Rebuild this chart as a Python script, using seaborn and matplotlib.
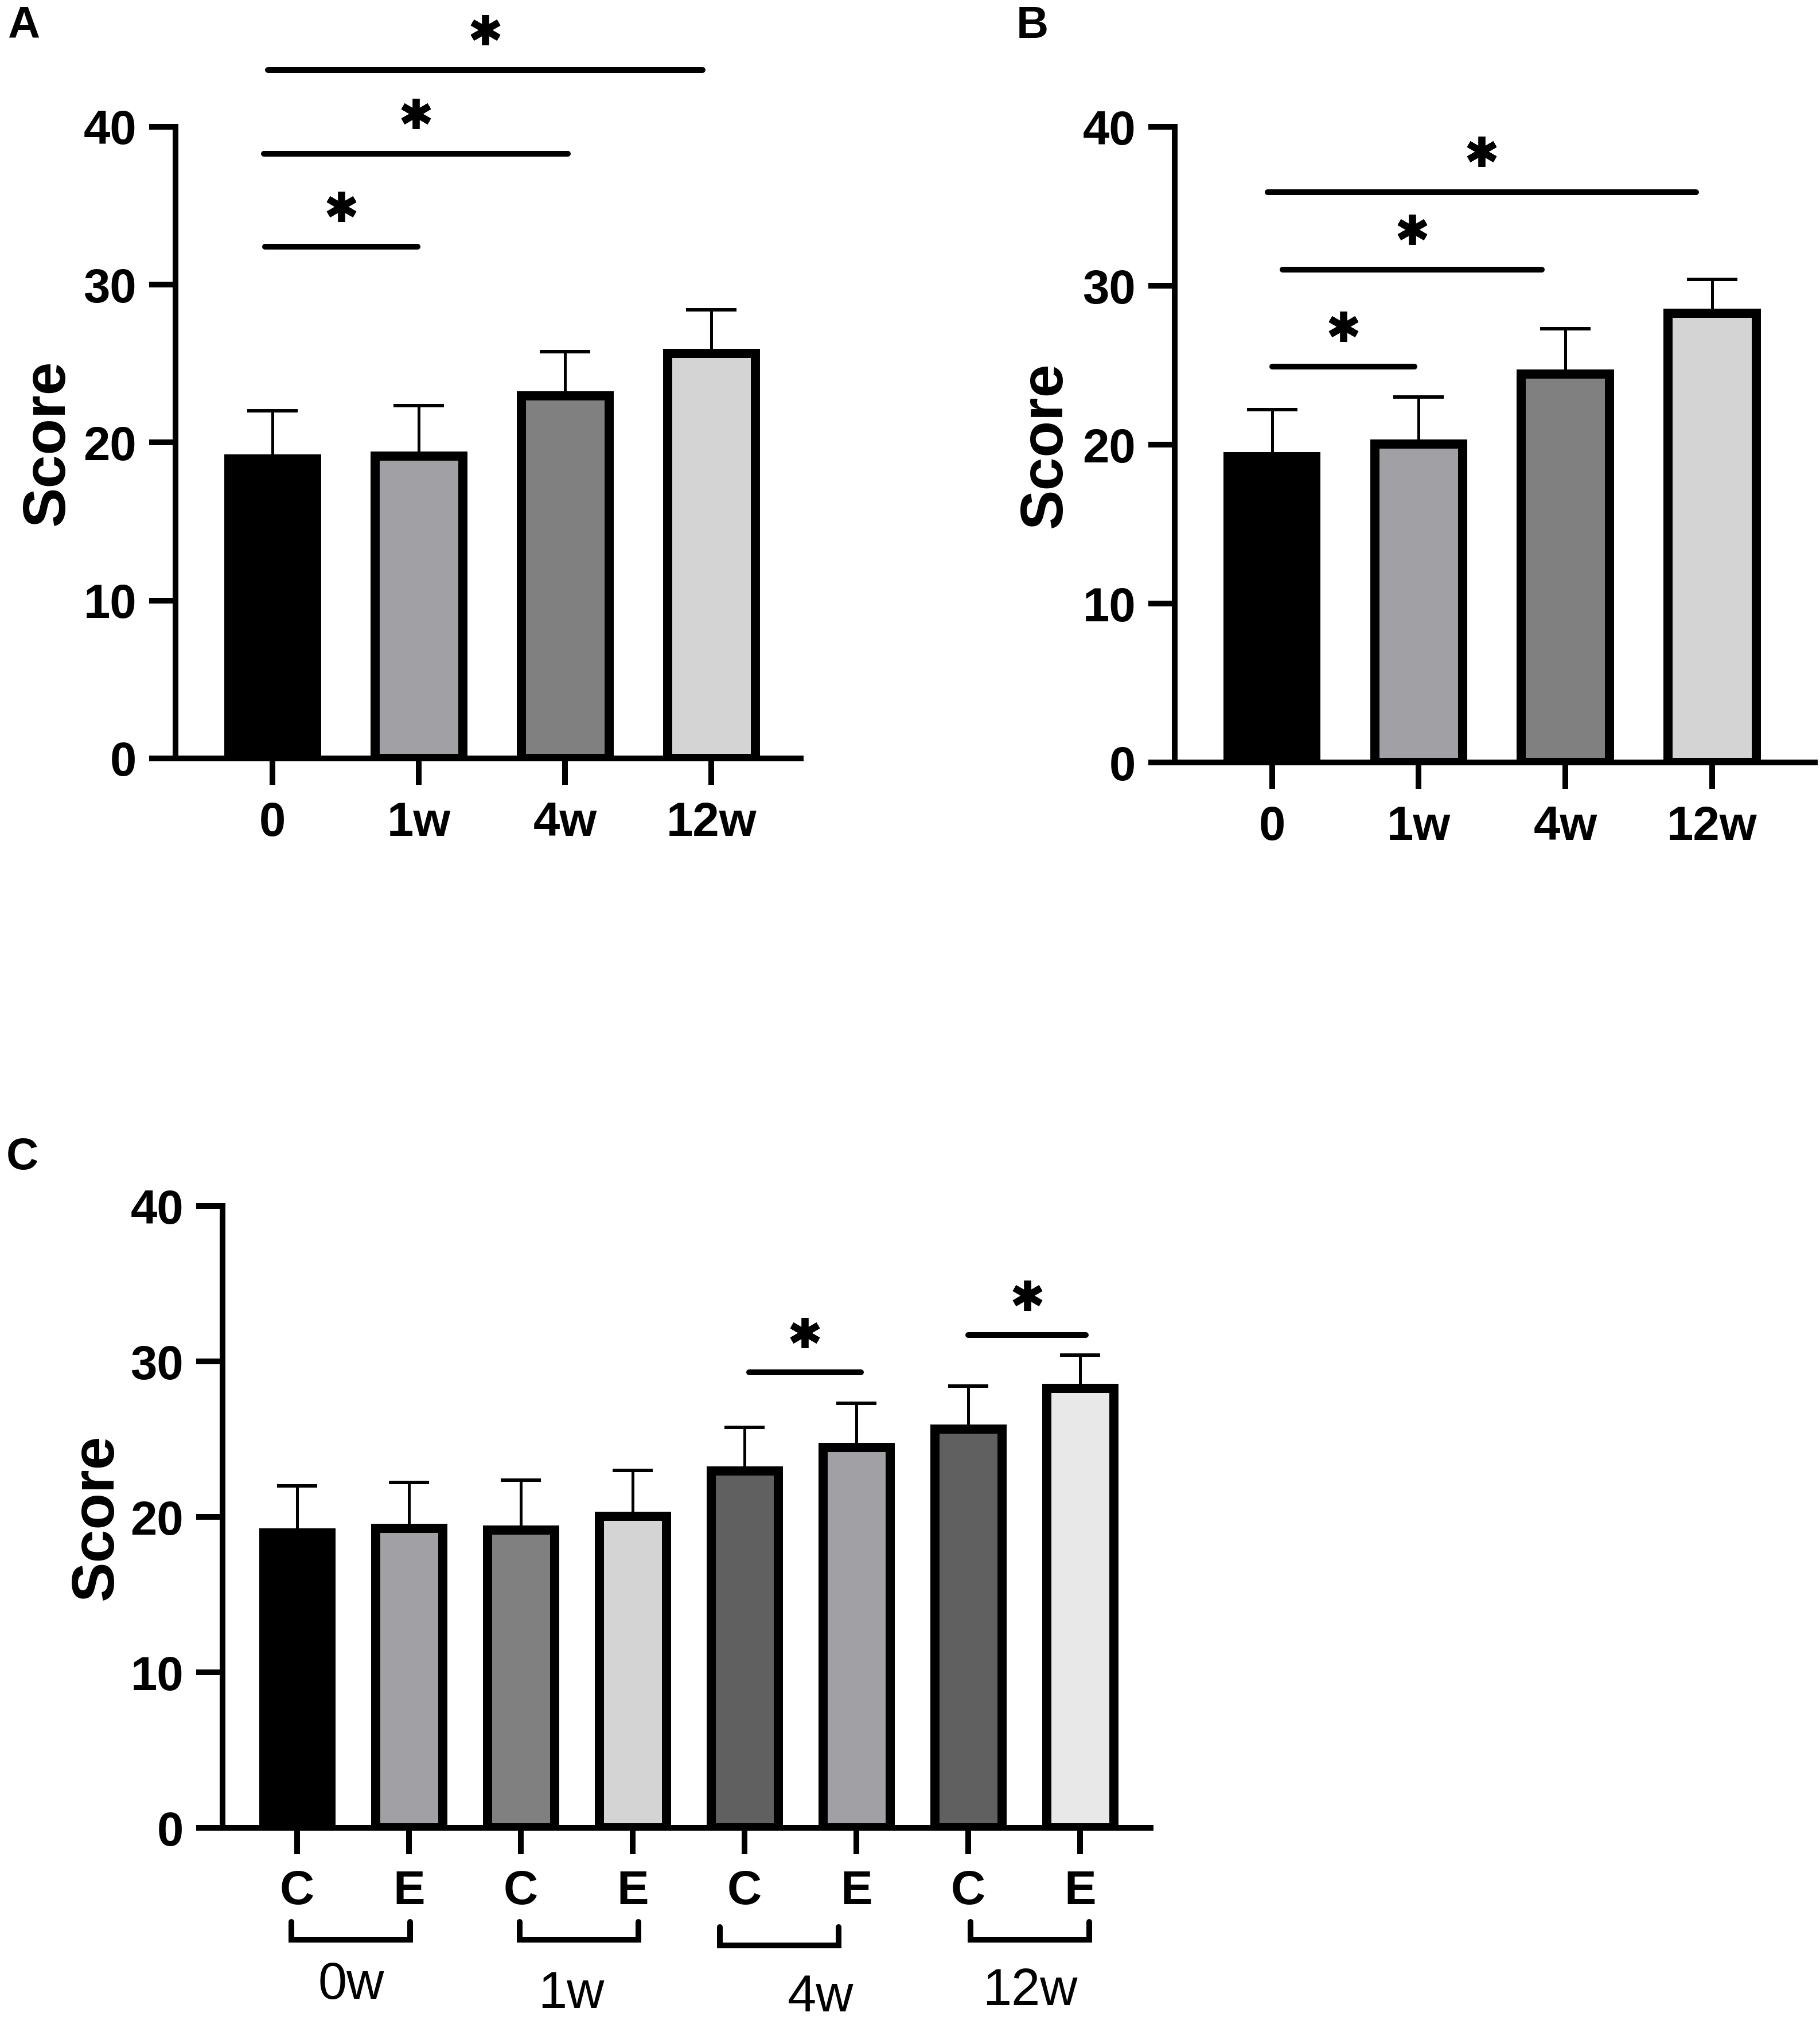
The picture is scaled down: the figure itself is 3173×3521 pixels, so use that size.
import matplotlib
matplotlib.use("Agg")
import matplotlib.pyplot as plt
import seaborn as sns

# ---- data ----
WEEKS = ["0", "1w", "4w", "12w"]
GROUP_WEEKS = ["0w", "1w", "4w", "12w"]
CE_KEYS = ["C0", "E0", "C1", "E1", "C4", "E4", "C12", "E12"]
CE_LABELS = ["C", "E"] * 4

control_mean = [18.95, 19.15, 22.95, 25.65]
control_upper = [22.0, 22.35, 25.75, 28.4]
exp_mean = [19.25, 20.05, 24.45, 28.25]
exp_upper = [22.2, 23.0, 27.3, 30.4]

week_colors = ["#000000", "#a1a1a5", "#808080", "#d4d4d4"]
ce_colors = ["#000000", "#a1a1a5", "#808080", "#d4d4d4",
             "#606060", "#a1a1a5", "#606060", "#e8e8e8"]

# significance lines: bar pairs, line height, (start, end) offsets of the hand drawn ends
sig_a_pairs = [(0, 1), (0, 2), (0, 3)]
sig_a_heights = [32.4, 38.3, 43.6]
sig_a_trim = [(-0.05, -0.01), (-0.06, 0.02), (-0.03, -0.06)]

sig_b_pairs = [(0, 1), (0, 2), (0, 3)]
sig_b_heights = [24.9, 31.0, 35.9]
sig_b_trim = [(0.0, -0.03), (0.07, -0.16), (-0.03, -0.11)]

sig_c_pairs = [(4, 5), (6, 7)]
sig_c_heights = [29.3, 31.7]
sig_c_trim = [(0.04, 0.04), (0.0, 0.05)]

STAR_GAP = 2.55
LW = 7.2


def draw_bars(ax, keys, means, uppers, colors, capsize):
    sns.barplot(x=keys, y=means, hue=keys, palette=colors, legend=False,
                width=0.6, edgecolor="black", linewidth=11.5, saturation=1,
                errorbar=None, ax=ax, zorder=2)
    xs = list(range(len(keys)))
    lower = [0] * len(means)
    upper = [u - m for u, m in zip(uppers, means)]
    ax.errorbar(xs, means, yerr=[lower, upper], fmt="none", ecolor="black",
                elinewidth=3.6, capsize=capsize, capthick=4.3, zorder=1)


def draw_sig(ax, pairs, heights, trims):
    for (i, j), h, (t0, t1) in zip(pairs, heights, trims):
        x0, x1 = i + t0, j + t1
        ax.plot([x0, x1], [h, h], color="black", lw=LW, solid_capstyle="round",
                clip_on=False, zorder=3)
        ax.plot((x0 + x1) / 2, h + STAR_GAP, marker=(6, 2, 0), ms=38, mew=8.5,
                color="black", clip_on=False, zorder=3)


def style_axes(ax, xlim, label_x, xpad):
    ax.set_xlim(*xlim)
    ax.set_ylim(0, 40)
    ax.set_yticks([0, 10, 20, 30, 40])
    sns.despine(ax=ax)
    for side in ["left", "bottom"]:
        ax.spines[side].set_linewidth(LW)
        ax.spines[side].set_color("black")
    ax.tick_params(axis="both", width=LW, length=33, labelsize=60,
                   color="black", labelcolor="black")
    ax.tick_params(axis="y", pad=16)
    ax.tick_params(axis="x", pad=xpad)
    for lab in ax.get_xticklabels() + ax.get_yticklabels():
        lab.set_fontweight("bold")
    ax.set_xlabel("")
    ax.set_ylabel("Score", fontsize=75, fontweight="bold", color="black")
    ax.yaxis.set_label_coords(label_x, 0.5)


def main():
    sns.set_style("ticks")
    plt.rcParams["font.family"] = ["Liberation Sans", "DejaVu Sans"]
    plt.rcParams["text.color"] = "black"
    plt.rcParams["axes.labelcolor"] = "black"
    plt.rcParams["axes.edgecolor"] = "black"
    plt.rcParams["xtick.color"] = "black"
    plt.rcParams["ytick.color"] = "black"

    fig = plt.figure(figsize=(31.73, 35.21), dpi=100)
    ax_a = fig.add_axes([0.09644, 0.62454, 0.34352, 0.31270])
    ax_b = fig.add_axes([0.64545, 0.62255, 0.35172, 0.31468])
    ax_c = fig.add_axes([0.12228, 0.09514, 0.50993, 0.30787])

    draw_bars(ax_a, WEEKS, control_mean, control_upper, week_colors, 32)
    draw_sig(ax_a, sig_a_pairs, sig_a_heights, sig_a_trim)
    style_axes(ax_a, (-0.663, 3.61), -0.159, 20)

    draw_bars(ax_b, WEEKS, exp_mean, exp_upper, week_colors, 32)
    draw_sig(ax_b, sig_b_pairs, sig_b_heights, sig_b_trim)
    style_axes(ax_b, (-0.663, 3.70), -0.158, 20)

    ce_mean = [v for pair in zip(control_mean, exp_mean) for v in pair]
    ce_upper = [v for pair in zip(control_upper, exp_upper) for v in pair]
    draw_bars(ax_c, CE_KEYS, ce_mean, ce_upper, ce_colors, 25)
    draw_sig(ax_c, sig_c_pairs, sig_c_heights, sig_c_trim)
    ax_c.set_xticks(range(len(CE_KEYS)))
    ax_c.set_xticklabels(CE_LABELS)
    style_axes(ax_c, (-0.667, 7.63), -0.105, 19)

    # brackets grouping C / E under each time point
    bracket_shift = [-0.02, 0.02, -0.19, 0.05]
    bracket_top = [-6.05, -6.05, -6.4, -6.05]
    label_x = [0.48, 2.45, 4.68, 6.55]
    label_y = [-11.0, -11.6, -11.8, -11.4]
    for k, week in enumerate(GROUP_WEEKS):
        x0 = 2 * k - 0.03 + bracket_shift[k]
        x1 = 2 * k + 1.03 + bracket_shift[k]
        top = bracket_top[k]
        bot = top - 1.15
        ax_c.plot([x0, x0, x1, x1], [top, bot, bot, top], color="black", lw=LW,
                  solid_capstyle="round", solid_joinstyle="miter", clip_on=False)
        ax_c.text(label_x[k], label_y[k], week, ha="center", va="baseline",
                  fontsize=65, family=["Liberation Sans Narrow", "Liberation Sans"])

    fig.text(0.0040, 0.9975, "A", fontsize=56, fontweight="bold", va="top", ha="left")
    fig.text(0.5585, 0.9975, "B", fontsize=56, fontweight="bold", va="top", ha="left")
    fig.text(0.0035, 0.4375, "C", fontsize=56, fontweight="bold", va="top", ha="left")

    fig.savefig("out.png", dpi=100, facecolor="white")


if __name__ == "__main__":
    main()
